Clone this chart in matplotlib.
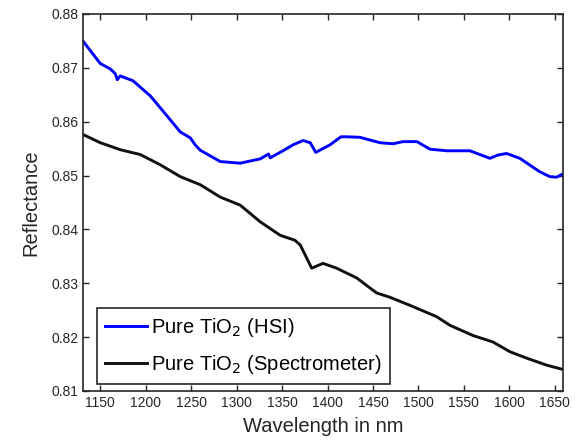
import numpy as np
import matplotlib.pyplot as plt

# values
hsi_wl = [1131.3, 1150, 1161, 1166.5, 1168.7, 1172, 1186, 1205, 1223.3, 1238,
          1249, 1254.4, 1260, 1282, 1304, 1326, 1335, 1337, 1351, 1362,
          1373, 1381, 1387, 1402.7, 1414.8, 1421, 1435.7, 1457.7, 1472, 1483,
          1498.4, 1512.6, 1531, 1556.6, 1578.6, 1587.4, 1597, 1611.5, 1633.5,
          1644.5, 1652, 1658.8]
hsi_refl = [0.8749, 0.8708, 0.8698, 0.8689, 0.8678, 0.8685, 0.8676, 0.8648, 0.8611, 0.8581,
            0.8570, 0.8557, 0.8547, 0.8526, 0.8523, 0.8531, 0.8540, 0.8533, 0.8546, 0.8557,
            0.8565, 0.8561, 0.8543, 0.8557, 0.8572, 0.8572, 0.8571, 0.8561, 0.8559, 0.8563,
            0.8563, 0.8549, 0.8546, 0.8546, 0.8532, 0.8538, 0.8541, 0.8532, 0.8507,
            0.8498, 0.8497, 0.8503]

spec_wl = [1131.3, 1150, 1172, 1194, 1216, 1238, 1260, 1282, 1304, 1326,
           1348, 1364, 1370, 1382.6, 1395, 1410, 1432, 1454, 1468.7, 1490.7,
           1520, 1534.6, 1560, 1582, 1600.5, 1619, 1641, 1658.8]
spec_refl = [0.8576, 0.8561, 0.8548, 0.8539, 0.8520, 0.8498, 0.8483, 0.8460, 0.8445, 0.8414,
             0.8389, 0.8380, 0.8371, 0.8328, 0.8337, 0.8328, 0.8310, 0.8282, 0.8274, 0.8259,
             0.8238, 0.8222, 0.8203, 0.8191, 0.8173, 0.8161, 0.8148, 0.8140]

xticks = np.arange(1150, 1651, 50)
yticks = [0.81, 0.82, 0.83, 0.84, 0.85, 0.86, 0.87, 0.88]

plt.rcParams['font.family'] = ['Liberation Sans', 'DejaVu Sans']

fig = plt.figure(figsize=(5.78, 4.44), dpi=100)
ax = fig.add_axes([0.1436, 0.1194, 0.8304, 0.8491])

ax.plot(hsi_wl, hsi_refl, color='#0000ff', linewidth=2.1, label='Pure TiO$_2$ (HSI)')
ax.plot(spec_wl, spec_refl, color='#111111', linewidth=2.1, label='Pure TiO$_2$ (Spectrometer)')

ax.set_xlim(1131, 1659)
ax.set_ylim(0.81, 0.88)
ax.set_xticks(xticks)
ax.set_yticks(yticks)
ax.set_yticklabels(['%.2f' % v for v in yticks])
ax.tick_params(direction='in', top=True, right=True, labelsize=10,
               color='#262626', labelcolor='#262626', length=4, width=1)
for s in ax.spines.values():
    s.set_color('#262626')
    s.set_linewidth(1.2)

ax.set_xlabel('Wavelength in nm', fontsize=14.5, color='#262626', labelpad=5)
ax.set_ylabel('Reflectance', fontsize=14.5, color='#262626', labelpad=8)

leg = ax.legend(loc='lower left', fontsize=14.5, fancybox=False, framealpha=1,
                edgecolor='#262626', handlelength=2.1, handletextpad=0.2,
                borderpad=0.4, labelspacing=0.7, borderaxespad=0,
                bbox_to_anchor=(0.029, 0.019))
leg.get_frame().set_linewidth(1.2)

fig.savefig('out.png')
